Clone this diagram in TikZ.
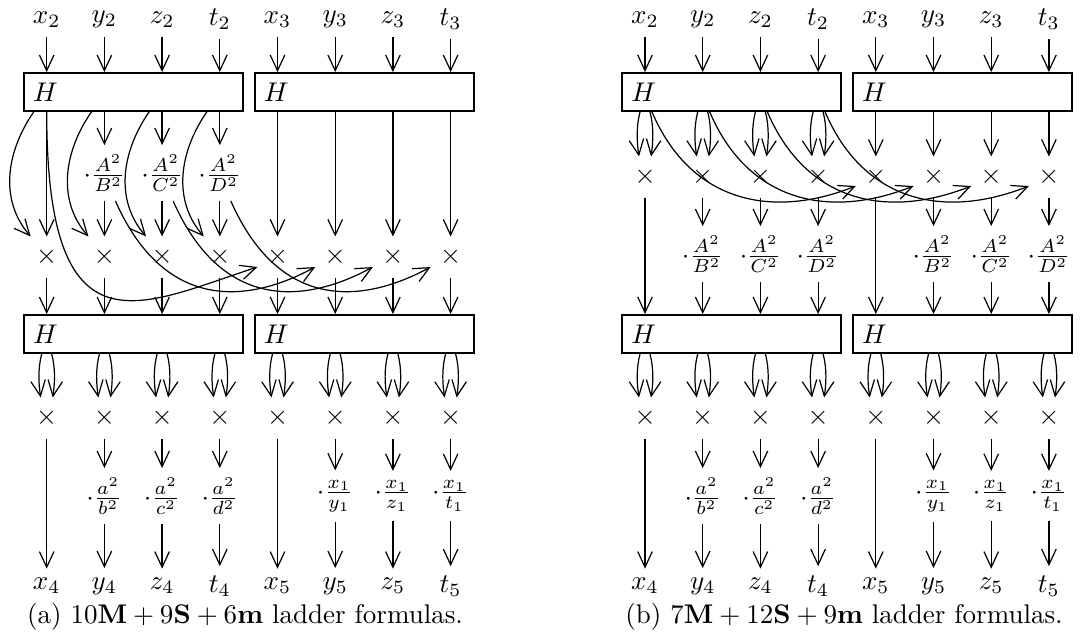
\documentclass[tikz,border=0pt]{standalone}
\usetikzlibrary{arrows.meta,calc}
\tikzset{
  conn/.style={line width=0.45pt,-{Straight Barb[length=5.8pt,width=5.4pt]}},
  lbl/.style={inner sep=3.33pt},
  hbox/.style={draw,line width=0.7pt,minimum height=14.07pt,text width=74.4pt,align=left,inner sep=3.33pt},
  mul/.style={inner sep=0pt,minimum height=14.8pt,minimum width=14pt},
  fracnode/.style={inner sep=3.33pt},
  captext/.style={anchor=base},
}
\begin{document}
\begin{tikzpicture}[x=0.3704pt,y=-0.3704pt]
\useasboundingbox (0,0) rectangle (1081,637);
% ---------- common parts of both diagrams ----------
\foreach \p/\X in {a/46.7,b/645.0}{
  \foreach \lab [count=\i from 0] in {x_2,y_2,z_2,t_2,x_3,y_3,z_3,t_3}
    \node[lbl] (\p top\i) at (\X+\i*57.7,19.5) {$\lab$};
  \node[hbox] (\p H1) at (\X+86.8,92) {$H$};
  \node[hbox] (\p H2) at (\X+317.6,92) {$H$};
  \node[hbox] (\p H3) at (\X+86.8,334) {$H$};
  \node[hbox] (\p H4) at (\X+317.6,334) {$H$};
  \foreach \i in {0,...,7}{
    \pgfmathtruncatemacro\bx{\i<4?1:2}
    \draw[conn] (\p top\i.south) -- (\p top\i.south |- \p H\bx.north);
  }
  \foreach \i in {0,...,7}
    \node[mul] (\p n\i) at (\X+\i*57.7,418) {$\times$};
  \foreach \lab [count=\i from 0] in {x_4,y_4,z_4,t_4,x_5,y_5,z_5,t_5}
    \node[lbl] (\p bot\i) at (\X+\i*57.7,586) {$\lab$};
  \foreach \i/\nm/\dn in {1/a^2/b^2,2/a^2/c^2,3/a^2/d^2,5/x_1/y_1,6/x_1/z_1,7/x_1/t_1}
    \node[fracnode] (\p g\i) at (\X+\i*57.7,496) {$\cdot\frac{\nm}{\dn}$};
  \foreach \i in {0,...,7}{
    \pgfmathtruncatemacro\bx{\i<4?3:4}
    \draw[conn] ($(\p n\i.north |- \p H\bx.south)+(-5,0)$) .. controls +(-4,15) and +(-2,-13) .. ($(\p n\i.north)+(-6,0)$);
    \draw[conn] ($(\p n\i.north |- \p H\bx.south)+(5,0)$) .. controls +(4,15) and +(2,-13) .. ($(\p n\i.north)+(6,0)$);
  }
  \foreach \i in {0,4}
    \draw[conn] (\p n\i.south) -- (\p bot\i.north);
  \foreach \i in {1,2,3,5,6,7}{
    \draw[conn] (\p n\i.south) -- (\p g\i.north);
    \draw[conn] (\p g\i.south) -- (\p bot\i.north);
  }
}
% ---------- upper part of (a) ----------
\foreach \i in {0,...,7}
  \node[mul] (am\i) at (46.7+\i*57.7,257) {$\times$};
\foreach \i/\dn in {1/B,2/C,3/D}
  \node[fracnode] (af\i) at (46.7+\i*57.7,173) {$\cdot\frac{A^2}{\dn^2}$};
\foreach \i in {0,4,5,6,7}{
  \pgfmathtruncatemacro\bx{\i<4?1:2}
  \draw[conn] (am\i.north |- aH\bx.south) -- (am\i.north);
}
\foreach \i in {1,2,3}{
  \draw[conn] (af\i.north |- aH1.south) -- (af\i.north);
  \draw[conn] (af\i.south) -- (am\i.north);
}
\foreach \i in {0,...,3}
  \draw[conn] ($(am\i.north |- aH1.south)+(-13,0)$) .. controls +(-27,39) and +(-32,-37) .. ($(am\i.north)+(-16,0)$);
\draw[conn] (am0.north |- aH1.south) .. controls +(0,249) and +(-117,38) .. ($(am4.center)+(-20,10)$);
\foreach \i in {1,2,3}{
  \pgfmathtruncatemacro\j{\i+4}
  \draw[conn] ($(af\i.south)+(11,0)$) .. controls +(45,102) and +(-78,42) .. ($(am\j.center)+(-20,10)$);
}
\foreach \i in {0,...,7}{
  \pgfmathtruncatemacro\bx{\i<4?3:4}
  \draw[conn] (am\i.south) -- (am\i.south |- aH\bx.north);
}
% ---------- upper part of (b) ----------
\foreach \i in {0,...,7}
  \node[mul] (bm\i) at (645+\i*57.7,177) {$\times$};
\foreach \i/\dn in {1/B,2/C,3/D,5/B,6/C,7/D}
  \node[fracnode] (bf\i) at (645+\i*57.7,254) {$\cdot\frac{A^2}{\dn^2}$};
\foreach \i in {0,...,3}{
  \draw[conn] ($(bm\i.north |- bH1.south)+(-5,0)$) .. controls +(-4,15) and +(-2,-13) .. ($(bm\i.north)+(-6,0)$);
  \draw[conn] ($(bm\i.north |- bH1.south)+(5,0)$) .. controls +(4,15) and +(2,-13) .. ($(bm\i.north)+(6,0)$);
  \pgfmathtruncatemacro\j{\i+4}
  \draw[conn] ($(bm\i.north |- bH1.south)+(7,0)$) .. controls +(38,89) and +(-86,34) .. ($(bm\j.center)+(-20,9)$);
}
\foreach \i in {4,...,7}
  \draw[conn] (bm\i.north |- bH2.south) -- (bm\i.north);
\foreach \i in {0,4}{
  \pgfmathtruncatemacro\bx{\i<4?3:4}
  \draw[conn] (bm\i.south) -- (bm\i.south |- bH\bx.north);
}
\foreach \i in {1,2,3,5,6,7}{
  \pgfmathtruncatemacro\bx{\i<4?3:4}
  \draw[conn] (bm\i.south) -- (bf\i.north);
  \draw[conn] (bf\i.south) -- (bf\i.south |- bH\bx.north);
}
% ---------- captions ----------
\node[captext] (capa) at (245,623) {(a) $10\mathbf{M}+9\mathbf{S}+6\mathbf{m}$ ladder formulas.};
\node[captext] (capb) at (844,623) {(b) $7\mathbf{M}+12\mathbf{S}+9\mathbf{m}$ ladder formulas.};
\end{tikzpicture}
\end{document}
